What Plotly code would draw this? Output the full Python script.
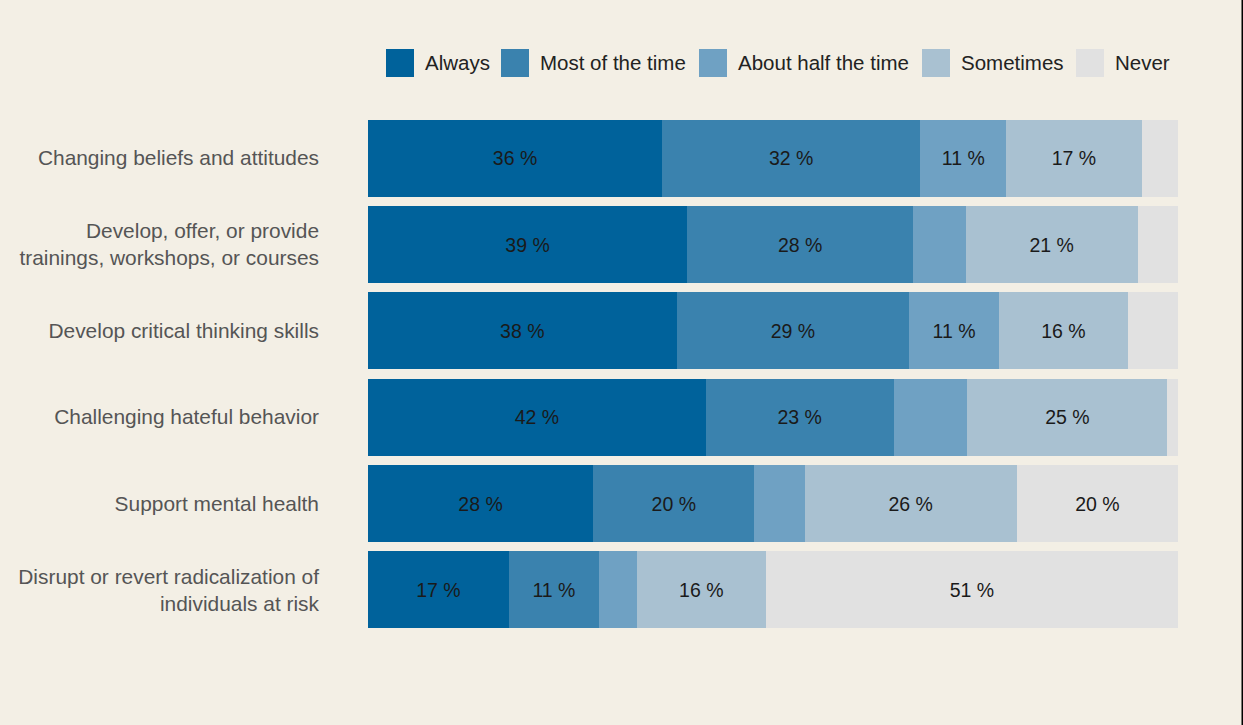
import plotly.graph_objects as go

categories = [
    "Changing beliefs and attitudes",
    "Develop, offer, or provide<br>trainings, workshops, or courses",
    "Develop critical thinking skills",
    "Challenging hateful behavior",
    "Support mental health",
    "Disrupt or revert radicalization of<br>individuals at risk",
]
series_names = ["Always", "Most of the time", "About half the time", "Sometimes", "Never"]
always = [36.3, 39.4, 38.1, 41.7, 27.8, 17.4]
most = [31.9, 27.9, 28.7, 23.2, 19.9, 11.1]
half = [10.6, 6.5, 11.1, 9.1, 6.2, 4.7]
sometimes = [16.7, 21.2, 15.9, 24.7, 26.2, 15.9]
never = [4.5, 5.0, 6.2, 1.3, 19.9, 50.9]
colors = ["#00629b", "#3a82ae", "#6fa1c3", "#a9c1d1", "#e1e1e1"]

W, H = 1243, 725
ML, MR, MT, MB = 368, 65, 115, 92
PW, PH = W - ML - MR, H - MT - MB
BG = "#f3efe5"
FONT = "Liberation Sans, Arial, sans-serif"


def px_x(p):
    return (p - ML) / PW


def px_y(p):
    return (H - MB - p) / PH


fig = go.Figure()
for name, vals, col in zip(series_names, [always, most, half, sometimes, never], colors):
    txt = [f"{round(v)} %" if v >= 10 else "" for v in vals]
    fig.add_trace(go.Bar(
        y=categories, x=vals, name=name, orientation="h",
        marker=dict(color=col, line=dict(width=0)),
        text=txt, textposition="inside", insidetextanchor="middle",
        textfont=dict(color="#1a1a1a", size=19.5, family=FONT),
        hoverinfo="skip", showlegend=False,
    ))

# custom legend (large square swatches)
legend_left = [386, 501, 699, 922, 1076]
shapes = []
annotations = []
for name, col, lx in zip(series_names, colors, legend_left):
    shapes.append(dict(type="rect", xref="paper", yref="paper",
                       x0=px_x(lx), x1=px_x(lx + 28), y0=px_y(77), y1=px_y(49),
                       fillcolor=col, line=dict(width=0)))
    annotations.append(dict(xref="paper", yref="paper", x=px_x(lx + 37), y=px_y(63),
                            xanchor="left", yanchor="middle", showarrow=False,
                            text=name, font=dict(size=20.5, color="#222222", family=FONT)))
# right-edge frame line
shapes.append(dict(type="line", xref="paper", yref="paper",
                   x0=px_x(W - 0.5), x1=px_x(W - 0.5), y0=px_y(H), y1=px_y(0),
                   line=dict(color="#000000", width=2)))

fig.update_layout(
    width=W, height=H,
    barmode="stack", bargap=0.105,
    paper_bgcolor=BG, plot_bgcolor=BG,
    margin=dict(l=ML, r=MR, t=MT, b=MB),
    font=dict(family=FONT, size=16, color="#555555"),
    uniformtext=dict(minsize=19, mode="show"),
    showlegend=False,
    shapes=shapes, annotations=annotations,
    xaxis=dict(range=[0, 100], visible=False, fixedrange=True),
    yaxis=dict(autorange="reversed", showgrid=False, zeroline=False, showline=False,
               ticks="", ticklabelstandoff=48, tickfont=dict(size=20.9, color="#555555", family=FONT)),
)

fig.write_html("out.html", post_script="document.body.style.margin='0';",
               config={"displayModeBar": False})
